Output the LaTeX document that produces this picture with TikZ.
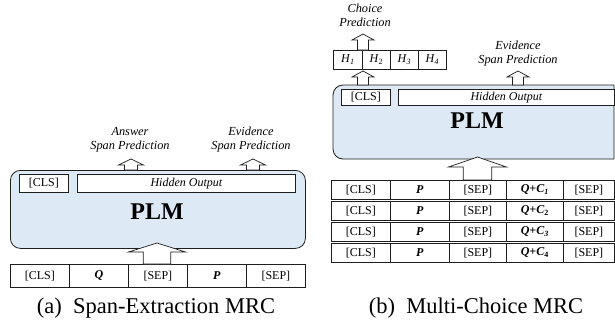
\documentclass[tikz,border=0pt]{standalone}
\usepackage{fontspec}
\setmainfont{Liberation Serif}
\definecolor{plmblue}{RGB}{222,233,246}
\definecolor{edge}{RGB}{30,30,30}
\newcommand\blockarrow[6]{% cx, tip, headbase, bottom, headhalf, shafthalf
  \draw[barrow] (#1,#2) -- (#1+#5,#3) -- (#1+#6,#3) -- (#1+#6,#4) -- (#1-#6,#4) -- (#1-#6,#3) -- (#1-#5,#3) -- cycle;}
\tikzset{
  cell/.style={draw=edge, line width=0.7pt, inner sep=0pt, anchor=north west, font=\fontsize{12}{14}\selectfont},
  lbl/.style={align=center, font=\itshape\fontsize{12.3}{14}\selectfont, inner sep=0pt},
  plmbox/.style={draw=edge, line width=0.8pt, fill=plmblue},
  plmtext/.style={font=\bfseries\fontsize{24}{28}\selectfont, inner sep=0pt},
  barrow/.style={draw=edge, line width=0.7pt, fill=white, line join=miter},
  capt/.style={font=\fontsize{22.5}{27}\selectfont, inner sep=0pt},
}
\begin{document}
\begin{tikzpicture}[x=1pt,y=-1pt]
\useasboundingbox (0,0) rectangle (615,327);
% ---------------- (a) ----------------
\node[plmbox, rounded corners=10pt, anchor=north west, minimum width=295pt, minimum height=78pt, inner sep=0pt] (plmA) at (10,170) {};
\node[cell, fill=white, minimum width=49pt, minimum height=18pt] (clsA) at (19,174) {[CLS]};
\node[cell, fill=white, minimum width=218pt, minimum height=18pt, font=\itshape\fontsize{12}{14}\selectfont] (hidA) at (77,174) {Hidden Output};
\node[plmtext] (plmAt) at (157,212) {PLM};
% input row
\node[cell, minimum width=59pt, minimum height=23pt] (a1) at (10,264) {[CLS]};
\node[cell, minimum width=59pt, minimum height=23pt] (a2) at (69,264) {\textbf{\textit{Q}}};
\node[cell, minimum width=59pt, minimum height=23pt] (a3) at (128,264) {[SEP]};
\node[cell, minimum width=59pt, minimum height=23pt] (a4) at (187,264) {\textbf{\textit{P}}};
\node[cell, minimum width=59pt, minimum height=23pt] (a5) at (246,264) {[SEP]};
% arrows
\blockarrow{157}{243}{252}{264}{28.5}{13.8}
\blockarrow{131}{159}{165}{170}{12.5}{6.5}
\blockarrow{253}{159}{165}{170}{12.5}{6.5}
\node[lbl] (ansA) at (130,140) {Answer\\Span Prediction};
\node[lbl] (eviA) at (251,140) {Evidence\\Span Prediction};
\node[capt] (capA) at (156,308) {(a)\ \ Span-Extraction MRC};
% ---------------- (b) ----------------
\draw[plmbox] (614,85) -- (343,85) arc[start angle=270, end angle=180, radius=10] -- (333,149) arc[start angle=180, end angle=90, radius=10] -- (614,159) -- cycle;
\node[cell, fill=white, minimum width=49pt, minimum height=16pt] (clsB) at (341,89) {[CLS]};
\node[cell, fill=white, minimum width=216pt, minimum height=16pt, font=\itshape\fontsize{12}{14}\selectfont] (hidB) at (398,89) {Hidden Output};
\node[plmtext] (plmBt) at (477,121) {PLM};
% H row
\node[cell, minimum width=29pt, minimum height=19pt] (h1) at (333,50) {\textit{H}\textsubscript{\textit{1}}};
\node[cell, minimum width=28pt, minimum height=19pt] (h2) at (362,50) {\textit{H}\textsubscript{2}};
\node[cell, minimum width=28pt, minimum height=19pt] (h3) at (390,50) {\textit{H}\textsubscript{\textit{3}}};
\node[cell, minimum width=28pt, minimum height=19pt] (h4) at (418,50) {\textit{H}\textsubscript{\textit{4}}};
% arrows
\blockarrow{363}{34}{40}{50}{11}{5.5}
\blockarrow{363}{71}{77}{85}{11}{5.5}
\blockarrow{518}{71}{77}{85}{11}{5.5}
\blockarrow{477.5}{157}{167}{180}{29}{14.2}
\node[lbl] (choB) at (365,15.5) {Choice\\Prediction};
\node[lbl] (eviB) at (518,54) {Evidence\\Span Prediction};
% input rows
\foreach \r/\yy/\sub in {1/180/\textit{1},2/201/2,3/222/\textit{3},4/243/4}{
  \node[cell, minimum width=59pt, minimum height=19pt] (b\r a) at (331,\yy) {[CLS]};
  \node[cell, minimum width=59pt, minimum height=19pt] (b\r b) at (390,\yy) {\textbf{\textit{P}}};
  \node[cell, minimum width=57pt, minimum height=19pt] (b\r c) at (449,\yy) {[SEP]};
  \node[cell, minimum width=57pt, minimum height=19pt] (b\r d) at (506,\yy) {\textbf{\textit{Q+C}}\textsubscript{\textbf{\sub}}};
  \node[cell, minimum width=51pt, minimum height=19pt] (b\r e) at (563,\yy) {[SEP]};
}
\node[capt] (capB) at (476,308) {(b)\ \ Multi-Choice MRC};
\end{tikzpicture}
\end{document}
